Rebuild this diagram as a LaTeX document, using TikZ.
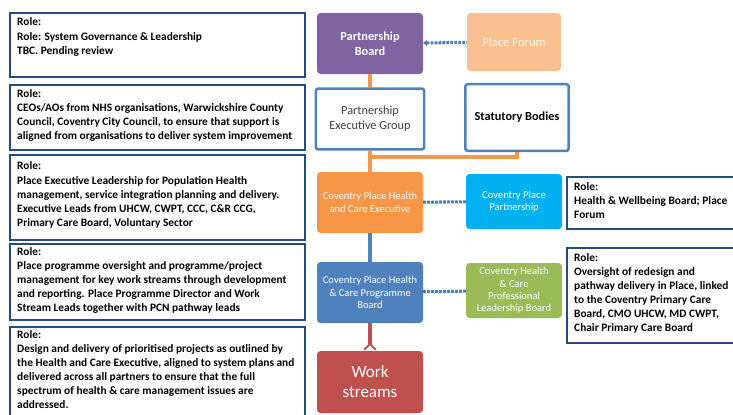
\documentclass[tikz,border=0pt]{standalone}
\usepackage{fontspec}
\setmainfont{Carlito}
\usetikzlibrary{arrows.meta}

\definecolor{roleblue}{HTML}{254B87}
\definecolor{pbpurple}{HTML}{8064A2}
\definecolor{forumpeach}{HTML}{FAC090}
\definecolor{execorange}{HTML}{F79646}
\definecolor{cppcyan}{HTML}{00B0F0}
\definecolor{progblue}{HTML}{4F81BD}
\definecolor{leadgreen}{HTML}{9BBB59}
\definecolor{workred}{HTML}{C0504D}
\definecolor{dotblue}{HTML}{4A7EBB}

\tikzset{
  roleframe/.style={draw=roleblue, line width=1.7pt, fill=white},
  roletext/.style={anchor=north west, inner sep=0pt, align=left, font=\bfseries\fontsize{9.7}{12}\selectfont},
  orgbox/.style={rounded corners=3pt, align=center, text=white, inner sep=1pt, font=\fontsize{9}{10.6}\selectfont},
  framebox/.style={draw=progblue, line width=2.2pt, fill=white, rounded corners=2pt, align=center},
  dotlink/.style={draw=dotblue, line width=2.6pt, dash pattern=on 2.4pt off 1pt},
}

\begin{document}
\begin{tikzpicture}[x=0.03cm,y=-0.03cm,>=latex]  % one unit is one pixel of the reference
    \useasboundingbox (0,0) rectangle (733,414);
    \clip (0,0) rectangle (733,414);

    % role boxes on the left
    \draw[roleframe] (10,13) rectangle (305,77);
    \node[roletext] (role1) at (17,17) {Role:\\[1pt]Role: System Governance \& Leadership\\TBC. Pending review};
    \draw[roleframe] (10,85) rectangle (305,150);
    \node[roletext] (role2) at (17,89) {Role:\\CEOs/AOs from NHS organisations, Warwickshire County\\Council, Coventry City Council, to ensure that support is\\aligned from organisations to deliver system improvement};
    \draw[roleframe] (10,155) rectangle (305,240);
    \node[roletext] (role3) at (17,161) {Role:\\[1pt]Place Executive Leadership for Population Health\\management, service integration planning and delivery.\\Executive Leads from UHCW, CWPT, CCC, C\&R CCG,\\Primary Care Board, Voluntary Sector};
    \draw[roleframe] (10,244) rectangle (305,320);
    \node[roletext] (role4) at (17,247) {Role:\\Place programme oversight and programme/project\\management for key work streams through development\\and reporting. Place Programme Director and Work\\Stream Leads together with PCN pathway leads};
    \draw[roleframe] (10,327) rectangle (305,430);
    \node[roletext] (role5) at (17,330) {Role:\\Design and delivery of prioritised projects as outlined by\\the Health and Care Executive, aligned to system plans and\\delivered across all partners to ensure that the full\\spectrum of health \& care management issues are\\addressed.};

    % role boxes on the right
    \draw[roleframe] (567,177) rectangle (745,229);
    \node[roletext] (role6) at (574,182) {Role:\\Health \& Wellbeing Board; Place\\Forum};
    \draw[roleframe] (567,248) rectangle (745,343);
    \node[roletext] (role7) at (574,253) {Role:\\Oversight of redesign and\\pathway delivery in Place, linked\\to the Coventry Primary Care\\Board, CMO UHCW, MD CWPT,\\Chair Primary Care Board};

    % governance column
    \node[orgbox, fill=pbpurple, minimum width=3.18cm, minimum height=1.83cm, font=\bfseries\fontsize{10.5}{12.5}\selectfont] (pboard) at (370,43.5) {Partnership\\Board};
    \node[framebox, minimum width=3.25cm, minimum height=1.82cm, text=black!75, font=\fontsize{10.5}{12.5}\selectfont] (peg) at (370,119) {Partnership\\Executive Group};
    \node[orgbox, fill=execorange, minimum width=3.18cm, minimum height=1.83cm] (exec) at (370,202.5) {Coventry Place Health\\and Care Executive};
    \node[orgbox, fill=progblue, minimum width=3.18cm, minimum height=1.83cm] (prog) at (370,292.5) {Coventry Place Health\\\& Care Programme\\Board};
    \node[orgbox, fill=workred, minimum width=3.18cm, minimum height=1.86cm, font=\fontsize{14.5}{17}\selectfont] (work) at (370,382) {Work\\streams};

    % partner column
    \node[orgbox, fill=forumpeach, text=orange!8, minimum width=2.82cm, minimum height=1.74cm, font=\fontsize{10.8}{12}\selectfont] (forum) at (514,42) {Place Forum};
    \node[framebox, minimum width=3.1cm, minimum height=2.0cm, font=\bfseries\fontsize{10.5}{12}\selectfont] (statutory) at (517,117.5) {Statutory Bodies};
    \node[orgbox, fill=cppcyan, minimum width=2.88cm, minimum height=1.65cm] (cpp) at (514,201.5) {Coventry Place\\Partnership};
    \node[orgbox, fill=leadgreen, minimum width=2.88cm, minimum height=1.65cm] (lead) at (514,290.5) {Coventry Health\\\& Care\\Professional\\Leadership Board};

    % connectors
    \coordinate (junction) at (370,157);
    \draw[execorange, line width=2.6pt] (pboard) -- (peg);
    \draw[execorange, line width=2.6pt] (peg) -- (exec);
    \draw[execorange, line width=2.6pt] (statutory.south) |- (junction);
    \draw[progblue, line width=3pt] (exec) -- (prog);
    \draw[workred, line width=3pt, -{Straight Barb[reversed,length=5pt,width=10pt,line width=1.6pt]}] (prog) -- (work);
    \draw[dotlink, {Triangle[length=3pt,width=5pt]}-] (pboard) -- (forum);
    \draw[dotlink] (exec) -- (cpp);
    \draw[dotlink] (prog) -- (lead);
\end{tikzpicture}
\end{document}
